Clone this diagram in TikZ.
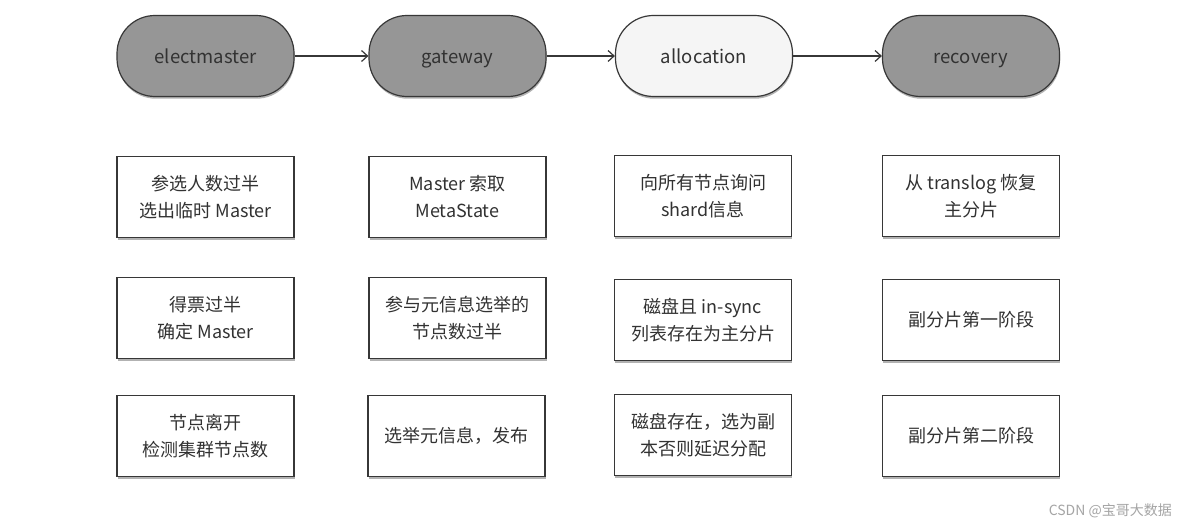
\documentclass[tikz,border=0pt]{standalone}
\usepackage{fontspec}
\setmainfont{Noto Sans CJK SC}
\usetikzlibrary{arrows.meta,shadows,shapes.misc}
\definecolor{edgegray}{RGB}{55,55,55}
\definecolor{darkfill}{RGB}{150,150,150}
\definecolor{lightfill}{RGB}{245,245,245}
\definecolor{txtgray}{RGB}{50,50,50}
\definecolor{wmgray}{RGB}{165,165,165}
\tikzset{
  stage/.style={draw=edgegray, line width=1.2pt, rectangle, rounded corners=38pt,
    minimum width=177pt, minimum height=81pt, inner sep=0pt,
    text height=18pt, text depth=2pt,
    font=\fontsize{18.5}{22}\selectfont, text=txtgray,
    drop shadow={shadow xshift=0.6pt, shadow yshift=-2.2pt, opacity=0.3, fill=black}},
  darkstage/.style={stage, fill=darkfill},
  lightstage/.style={stage, fill=lightfill},
  infobox/.style={draw=edgegray, line width=1.3pt, fill=white, rectangle,
    minimum width=177pt, minimum height=81pt, inner sep=0pt, align=center,
    font=\fontsize{18}{27}\selectfont, text=txtgray,
    drop shadow={shadow xshift=0.6pt, shadow yshift=-2.2pt, opacity=0.3, fill=black}},
  flow/.style={draw=edgegray, line width=1.2pt, -{Straight Barb[length=6pt,width=11pt,line width=1.2pt]}}
}
\begin{document}
\begin{tikzpicture}[x=1pt,y=1pt]
\useasboundingbox[fill=white] (0,0) rectangle (1184,-529);
% stages
\node[darkstage]  (em)  at (205.5,-56) {electmaster};
\node[darkstage]  (gw)  at (457.5,-56) {gateway};
\node[lightstage] (al)  at (704,-56)   {allocation};
\node[darkstage]  (rc)  at (971,-56)   {recovery};
\draw[flow] (em) -- (gw);
\draw[flow] (gw) -- (al);
\draw[flow] (al) -- (rc);
% row 1
\node[infobox] (e1) at (205.5,-197) {参选人数过半\\选出临时 Master};
\node[infobox] (g1) at (457.5,-197) {Master 索取\\MetaState};
\node[infobox] (a1) at (703,-196)   {向所有节点询问\\shard信息};
\node[infobox] (r1) at (971,-196)   {从 translog 恢复\\主分片};
% row 2
\node[infobox] (e2) at (205.5,-318) {得票过半\\确定 Master};
\node[infobox] (g2) at (457.5,-318) {参与元信息选举的\\节点数过半};
\node[infobox] (a2) at (703,-320)   {磁盘且 in-sync\\列表存在为主分片};
\node[infobox] (r2) at (971,-320)   {副分片第一阶段};
% row 3
\node[infobox] (e3) at (205.5,-436) {节点离开\\检测集群节点数};
\node[infobox] (g3) at (456.5,-436) {选举元信息，发布};
\node[infobox] (a3) at (703,-435)   {磁盘存在，选为副\\本否则延迟分配};
\node[infobox] (r3) at (971,-436)   {副分片第二阶段};
% watermark
\node[anchor=east, text=wmgray, font=\fontsize{14}{16}\selectfont, inner sep=0pt] (wm) at (1172,-511) {CSDN @宝哥大数据};
\end{tikzpicture}
\end{document}
